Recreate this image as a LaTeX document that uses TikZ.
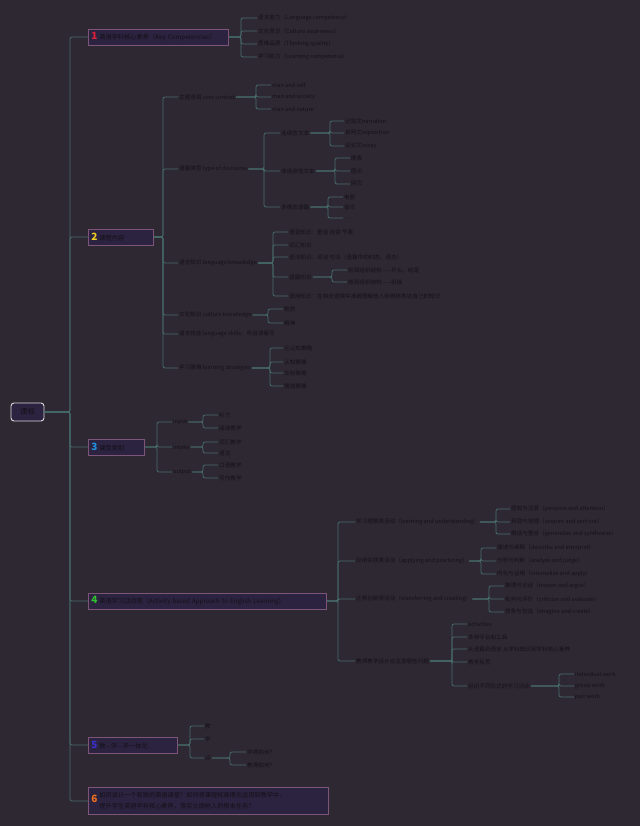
\documentclass[tikz,border=0pt]{standalone}
\usepackage{fontspec}
\setmainfont{Noto Sans CJK SC}
\definecolor{bgc}{HTML}{2E2833}
\definecolor{linec}{HTML}{476C6B}
\definecolor{bord}{HTML}{7E5479}
\definecolor{nfill}{HTML}{2B2340}
\definecolor{txt}{HTML}{141117}
\definecolor{cA}{HTML}{E0203A}
\definecolor{cB}{HTML}{F2D022}
\definecolor{cC}{HTML}{2090E0}
\definecolor{cD}{HTML}{30C030}
\definecolor{cE}{HTML}{3A30D0}
\definecolor{cF}{HTML}{F07020}
\newcommand\bignum[2]{{\fontsize{10}{10}\selectfont\bfseries\color{#1}#2}\hspace{2pt}}
\begin{document}
\begin{tikzpicture}[x=1pt,y=-1pt,
  conn/.style={draw=linec, line width=0.75pt, rounded corners=2pt},
  leaf/.style={anchor=west, inner xsep=1pt, inner ysep=1pt, text=txt, font=\fontsize{5.6}{6.4}\selectfont},
  lone/.style={anchor=west, draw=bord, fill=nfill, line width=0.8pt, inner xsep=3pt, inner ysep=1.5pt, minimum height=16pt, text=txt, font=\fontsize{6.2}{8}\selectfont, align=left},
  rootbox/.style={draw=white!85!black, fill=nfill, rounded corners=3pt, line width=0.9pt, minimum width=33pt, minimum height=18pt, text=txt, font=\fontsize{7.5}{8}\selectfont}]
\fill[bgc] (0,0) rectangle (640,826);
\useasboundingbox (0,0) rectangle (640,826);

% root
\node[rootbox] (root) at (27.5,412) {课标};

% level 1
\node[lone, text width=134pt] (n1) at (88,37) {\bignum{cA}{1}英语学科核心素养（Key Competencies）};
\node[lone, text width=59pt] (n2) at (88,237) {\bignum{cB}{2}课程内容};
\node[lone, text width=50pt] (n3) at (88,447) {\bignum{cC}{3}课型类别};
\node[lone, text width=232pt] (n4) at (88,601) {\bignum{cD}{4}英语学习活动观（Activity-based Approach to English Learning）};
\node[lone, text width=83pt] (n5) at (88,745) {\bignum{cE}{5}教—学—评一体化};
\node[lone, text width=234pt, minimum height=27pt] (n6) at (88,801) {\bignum{cF}{6}\parbox[c]{214pt}{\fontsize{6.2}{11}\selectfont 如何设计一个有效的英语课堂？如何将课程标准理念运用到教学中，\\提升学生英语学科核心素养，落实立德树人的根本任务？}};

\foreach \n in {n1,n2,n3,n4,n5,n6}
  \draw[conn] (\n.west) -- ++(-18,0) |- (root.east);

% node 1 children
\node[leaf] (a1) at (257,18) {语言能力（Language competence）};
\node[leaf] (a2) at (257,31) {文化意识（Culture awareness）};
\node[leaf] (a3) at (257,44) {思维品质（Thinking quality）};
\node[leaf] (a4) at (257,57) {学习能力（Learning competence）};
\foreach \c in {a1,a2,a3,a4} \draw[conn] (\c.west) -- ++(-16,0) |- (n1.east);

% node 2 children
\node[leaf] (b1) at (178,97) {主题语境 core context};
\node[leaf] (b2) at (178,169) {语篇类型 type of discourse};
\node[leaf] (b3) at (178,263) {语言知识 language knowledge};
\node[leaf] (b4) at (178,315) {文化知识 culture knowledge};
\node[leaf] (b5) at (178,334) {语言技能 language skills：听说读看写};
\node[leaf] (b6) at (178,368) {学习策略 learning strategies};
\foreach \c in {b1,b2,b3,b4,b5,b6} \draw[conn] (\c.west) -- ++(-15,0) |- (n2.east);

% theme context
\node[leaf] (b11) at (271,85) {man and self};
\node[leaf] (b12) at (271,97) {man and society};
\node[leaf] (b13) at (271,109) {man and nature};
\foreach \c in {b11,b12,b13} \draw[conn] (\c.west) -- ++(-15,0) |- (b1.east);

% discourse types
\node[leaf] (b21) at (280,133) {连续性文本};
\node[leaf] (b22) at (280,171) {非连续性文本};
\node[leaf] (b23) at (280,207) {多模态语篇};
\foreach \c in {b21,b22,b23} \draw[conn] (\c.west) -- ++(-16,0) |- (b2.east);

\node[leaf] (b211) at (344,121) {记叙文narration};
\node[leaf] (b212) at (344,133) {说明文exposition};
\node[leaf] (b213) at (344,146) {议论文essay};
\foreach \c in {b211,b212,b213} \draw[conn] (\c.west) -- ++(-14,0) |- (b21.east);

\node[leaf] (b221) at (350,158) {图表};
\node[leaf] (b222) at (350,171) {图示};
\node[leaf] (b223) at (350,184) {网页};
\foreach \c in {b221,b222,b223} \draw[conn] (\c.west) -- ++(-15,0) |- (b22.east);

\node[leaf] (b231) at (343,197) {电影};
\node[leaf] (b232) at (343,207) {音乐};
\node[leaf] (b233) at (343,218) {…};
\foreach \c in {b231,b232,b233} \draw[conn] (\c.west) -- ++(-15,0) |- (b23.east);

% language knowledge
\node[leaf] (b31) at (288,232) {语音知识：重音 连读 节奏};
\node[leaf] (b32) at (288,245) {词汇知识};
\node[leaf] (b33) at (288,257) {语法知识：词法 句法（语篇中的时态、语态）};
\node[leaf] (b34) at (288,277) {语篇知识};
\node[leaf] (b35) at (288,296) {语用知识：在特定语境中准确理解他人和得体表达自己的知识};
\foreach \c in {b31,b32,b33,b34,b35} \draw[conn] (\c.west) -- ++(-15,0) |- (b3.east);

\node[leaf] (b341) at (347,270) {宏观组织结构——开头、结尾};
\node[leaf] (b342) at (347,282) {微观组织结构——衔接};
\foreach \c in {b341,b342} \draw[conn] (\c.west) -- ++(-15,0) |- (b34.east);

% culture knowledge
\node[leaf] (b41) at (283,309) {物质};
\node[leaf] (b42) at (283,323) {精神};
\foreach \c in {b41,b42} \draw[conn] (\c.west) -- ++(-15,0) |- (b4.east);

% strategies
\node[leaf] (b61) at (283,348) {元认知策略};
\node[leaf] (b62) at (283,362) {认知策略};
\node[leaf] (b63) at (283,373) {交际策略};
\node[leaf] (b64) at (283,386) {情感策略};
\foreach \c in {b61,b62,b63,b64} \draw[conn] (\c.west) -- ++(-13,0) |- (b6.east);

% node 3
\node[leaf] (c1) at (172,422) {input};
\node[leaf] (c2) at (172,447) {intake};
\node[leaf] (c3) at (172,472) {output};
\foreach \c in {c1,c2,c3} \draw[conn] (\c.west) -- ++(-15,0) |- (n3.east);
\node[leaf] (c11) at (218,415) {听力};
\node[leaf] (c12) at (218,428) {阅读教学};
\node[leaf] (c21) at (218,442) {词汇教学};
\node[leaf] (c22) at (218,453) {语法};
\node[leaf] (c31) at (218,465) {口语教学};
\node[leaf] (c32) at (218,478) {写作教学};
\foreach \c in {c11,c12} \draw[conn] (\c.west) -- ++(-15,0) |- (c1.east);
\foreach \c in {c21,c22} \draw[conn] (\c.west) -- ++(-15,0) |- (c2.east);
\foreach \c in {c31,c32} \draw[conn] (\c.west) -- ++(-15,0) |- (c3.east);

% node 4
\node[leaf] (d1) at (355,522) {学习理解类活动（learning and understanding）};
\node[leaf] (d2) at (355,561) {应用实践类活动（applying and practicing）};
\node[leaf] (d3) at (355,599) {迁移创新类活动（transferring and creating）};
\node[leaf] (d4) at (355,661) {教师教学设计应注意哪些问题};
\foreach \c in {d1,d2,d3,d4} \draw[conn] (\c.west) -- ++(-17,0) |- (n4.east);

\node[leaf] (d11) at (510,509) {感知与注意（perceive and attention）};
\node[leaf] (d12) at (510,522) {获取与梳理（acquire and sort out）};
\node[leaf] (d13) at (510,534) {概括与整合（generalize and synthesize）};
\foreach \c in {d11,d12,d13} \draw[conn] (\c.west) -- ++(-14,0) |- (d1.east);

\node[leaf] (d21) at (496,548) {描述与阐释（describe and interpret）};
\node[leaf] (d22) at (496,561) {分析与判断（analyze and judge）};
\node[leaf] (d23) at (496,574) {内化与运用（internalize and apply）};
\foreach \c in {d21,d22,d23} \draw[conn] (\c.west) -- ++(-15,0) |- (d2.east);

\node[leaf] (d31) at (504,586) {推理与论证（reason and argue）};
\node[leaf] (d32) at (504,599) {批判与评价（criticize and evaluate）};
\node[leaf] (d33) at (504,612) {想象与创造（imagine and create）};
\foreach \c in {d31,d32,d33} \draw[conn] (\c.west) -- ++(-15,0) |- (d3.east);

\node[leaf] (d41) at (467,624) {activities};
\node[leaf] (d42) at (467,637) {多种平台和工具};
\node[leaf] (d43) at (467,649) {从语篇到语言 从学科知识到学科核心素养};
\node[leaf] (d44) at (467,662) {教学反思};
\node[leaf] (d45) at (467,686) {组织不同形式的学习活动};
\foreach \c in {d41,d42,d43,d44,d45} \draw[conn] (\c.west) -- ++(-15,0) |- (d4.east);

\node[leaf] (d451) at (574,674) {individual work};
\node[leaf] (d452) at (574,686) {group work};
\node[leaf] (d453) at (574,697) {pair work};
\foreach \c in {d451,d452,d453} \draw[conn] (\c.west) -- ++(-15,0) |- (d45.east);

% node 5
\node[leaf] (e1) at (204,726) {教};
\node[leaf] (e2) at (204,739) {学};
\node[leaf] (e3) at (204,758) {评};
\foreach \c in {e1,e2,e3} \draw[conn] (\c.west) -- ++(-14,0) |- (n5.east);
\node[leaf] (e31) at (246,752) {学得如何？};
\node[leaf] (e32) at (246,765) {教得如何？};
\foreach \c in {e31,e32} \draw[conn] (\c.west) -- ++(-16,0) |- (e3.east);
\end{tikzpicture}
\end{document}
